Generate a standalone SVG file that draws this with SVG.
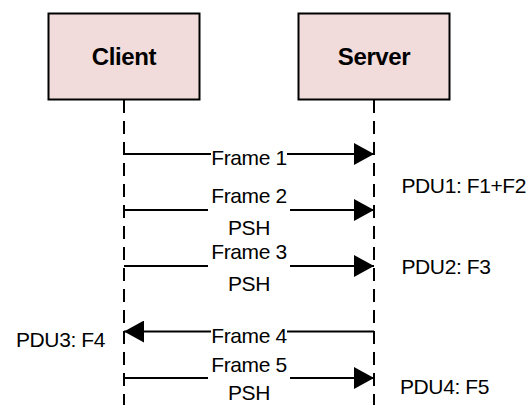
<svg xmlns="http://www.w3.org/2000/svg" width="531" height="405" viewBox="0 0 531 405">
  <style>
    .box { fill: #f2dcdb; stroke: #000; stroke-width: 2; }
    .title { font-family: "Liberation Sans", Arial, sans-serif; font-weight: bold; font-size: 24px; letter-spacing: -0.4px; fill: #000; text-anchor: middle; }
    .life { stroke: #000; stroke-width: 2; stroke-dasharray: 13 8; fill: none; }
    .msg { stroke: #000; stroke-width: 2; fill: none; marker-end: url(#head); }
    .lbl { font-family: "Liberation Sans", Arial, sans-serif; font-size: 21px; letter-spacing: -0.4px; fill: #000; }
    .mid { text-anchor: middle; }
    .bg { fill: #fff; }
  </style>
  <defs>
    <marker id="head" markerUnits="userSpaceOnUse" markerWidth="20" markerHeight="22" refX="20" refY="11" orient="auto">
      <path d="M0,0 L20,11 L0,22 Z" fill="#000"/>
    </marker>
  </defs>

  <rect width="531" height="405" fill="#fff"/>

  <!-- lifelines -->
  <g id="lifelines">
    <line class="life" x1="124" y1="100" x2="124" y2="405"/>
    <line class="life" x1="374" y1="100" x2="374" y2="405"/>
  </g>

  <!-- participants -->
  <g id="client">
    <rect class="box" x="48.5" y="13.5" width="151" height="86"/>
    <text class="title" x="124" y="65">Client</text>
  </g>
  <g id="server">
    <rect class="box" x="298.5" y="13.5" width="151" height="86"/>
    <text class="title" x="374" y="65">Server</text>
  </g>

  <!-- messages -->
  <g id="connectors">
    <line class="msg" x1="124" y1="154" x2="374" y2="154"/>
    <line class="msg" x1="124" y1="210" x2="374" y2="210"/>
    <line class="msg" x1="124" y1="266" x2="374" y2="266"/>
    <line class="msg" x1="374" y1="331.5" x2="124" y2="331.5"/>
    <line class="msg" x1="124" y1="378" x2="374" y2="378"/>

    <!-- label backgrounds break the message lines -->
    <rect class="bg" x="211" y="145" width="76" height="20"/>
    <rect class="bg" x="208" y="200" width="82" height="20"/>
    <rect class="bg" x="208" y="256" width="82" height="20"/>
    <rect class="bg" x="211" y="322" width="76" height="20"/>
    <rect class="bg" x="208" y="368" width="82" height="20"/>

    <text class="lbl mid" x="249" y="165">Frame 1</text>
    <text class="lbl mid" x="249" y="203">Frame 2</text>
    <text class="lbl mid" x="249" y="235">PSH</text>
    <text class="lbl mid" x="249" y="259">Frame 3</text>
    <text class="lbl mid" x="249" y="291">PSH</text>
    <text class="lbl mid" x="249" y="342.5">Frame 4</text>
    <text class="lbl mid" x="249" y="372">Frame 5</text>
    <text class="lbl mid" x="249" y="400">PSH</text>
  </g>

  <!-- reassembled PDUs -->
  <g id="pdus">
    <text class="lbl" x="401.5" y="193">PDU1: F1+F2</text>
    <text class="lbl" x="401.5" y="273.5">PDU2: F3</text>
    <text class="lbl" x="16" y="347">PDU3: F4</text>
    <text class="lbl" x="400" y="394">PDU4: F5</text>
  </g>
</svg>
